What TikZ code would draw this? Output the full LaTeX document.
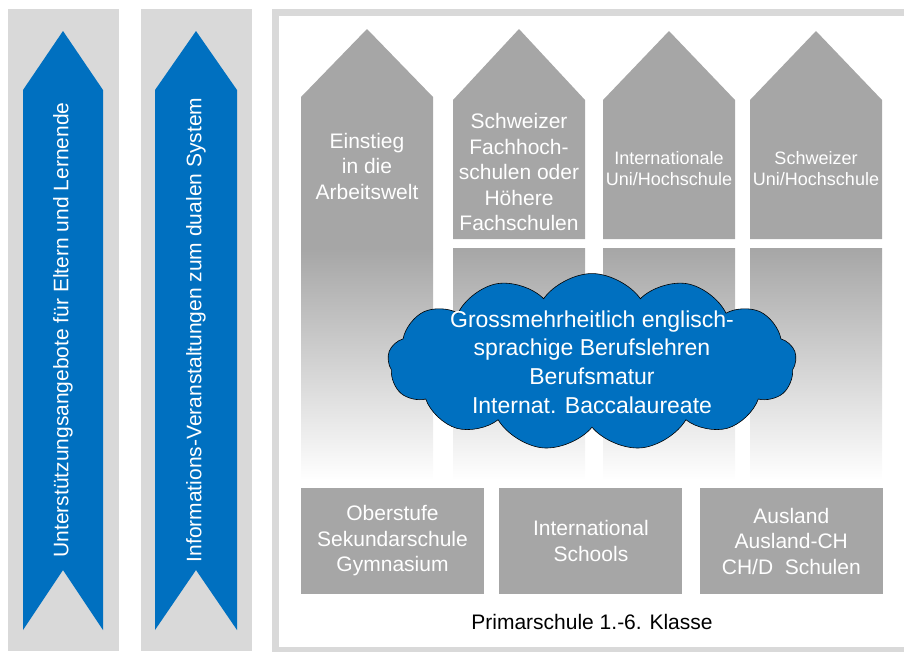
\documentclass[tikz,border=0pt]{standalone}
\usepackage{fontspec}
\setmainfont{Liberation Sans}
\usepackage{tikz}
\usetikzlibrary{positioning, shapes.symbols}
\definecolor{panelgray}{HTML}{D9D9D9}
\definecolor{housegray}{HTML}{A6A6A6}
\definecolor{arrowblue}{HTML}{0070C0}
\tikzstyle{panel} = [fill=panelgray]
\tikzstyle{frame} = [draw=panelgray, line width=7pt]
\tikzstyle{banner} = [fill=arrowblue]
\tikzstyle{bannertext} = [text=white, rotate=90, font=\fontsize{21}{25}\selectfont]
\tikzstyle{house} = [fill=housegray]
\tikzstyle{fade} = [top color=housegray, bottom color=white]
\tikzstyle{houselabel} = [text=white, align=center, font=\fontsize{21}{25.5}\selectfont]
\tikzstyle{smalllabel} = [text=white, align=center, font=\fontsize{18}{21}\selectfont]
\tikzstyle{bubble} = [cloud, cloud puffs=13, cloud puff arc=110, aspect=3.1, draw=black, line width=0.6pt, fill=arrowblue, text=white, align=center, inner xsep=1pt, inner ysep=-23pt, font=\fontsize{23}{28.7}\selectfont]
\tikzstyle{school} = [rectangle, fill=housegray, text=white, align=center, minimum width=183pt, minimum height=106pt, inner sep=0pt, font=\fontsize{21}{25.5}\selectfont]
\tikzstyle{plain} = [text=black, font=\fontsize{21}{25}\selectfont]

\begin{document}
\begin{tikzpicture}[x=1pt, y=-1pt]
\useasboundingbox (0,0) rectangle (904,651);
\fill[panel] (8,9) rectangle (119,651);
\fill[panel] (141,9) rectangle (252,651);
\draw[frame] (275.5,12.5) rectangle (920,650.5);
\fill[banner] (23,90) -- (63,31) -- (103,90) -- (103,630) -- (63,570) -- (23,630) -- cycle;
\node (support) [bannertext] at (63,330) {Unterstützungsangebote für Eltern und Lernende};
\fill[banner] (155,90) -- (196,31) -- (237,90) -- (237,630) -- (196,570) -- (155,630) -- cycle;
\node (info) [bannertext] at (196,330) {Informations-Veranstaltungen zum dualen System};
\fill[house] (301,97) -- (367,29) -- (433,97) -- (433,248) -- (301,248) -- cycle;
\shade[fade] (301,248) rectangle (433,480);
\fill[house] (453,100) -- (519,29) -- (585,100) -- (585,239) -- (453,239) -- cycle;
\shade[fade] (453,248) rectangle (585,480);
\fill[house] (603,100) -- (669,31) -- (735,100) -- (735,239) -- (603,239) -- cycle;
\shade[fade] (603,248) rectangle (735,480);
\fill[house] (750,100) -- (816,31) -- (882,100) -- (882,239) -- (750,239) -- cycle;
\shade[fade] (750,248) rectangle (882,480);
\node (work) [houselabel] at (367,166) {Einstieg\\in die\\Arbeitswelt};
\node (fh) [houselabel] at (519,172) {Schweizer\\Fachhoch-\\schulen oder\\Höhere\\Fachschulen};
\node (intuni) [smalllabel] at (669,169) {Internationale\\Uni/Hochschule};
\node (chuni) [smalllabel] at (816,169) {Schweizer\\Uni/Hochschule};
\node (apprent) [bubble] at (592,362) {Grossmehrheitlich englisch-\\sprachige Berufslehren\\Berufsmatur\\Internat. Baccalaureate};
\node (upper) [school] at (392.5,541) {Oberstufe\\Sekundarschule\\Gymnasium};
\node (intl) [school, right=15pt of upper] {International\\Schools};
\node (abroad) [school, right=17pt of intl] {Ausland\\Ausland-CH\\CH/D\ \ Schulen};
\node (primary) [plain] at (592,622) {Primarschule 1.-6. Klasse};
\end{tikzpicture}
\end{document}
